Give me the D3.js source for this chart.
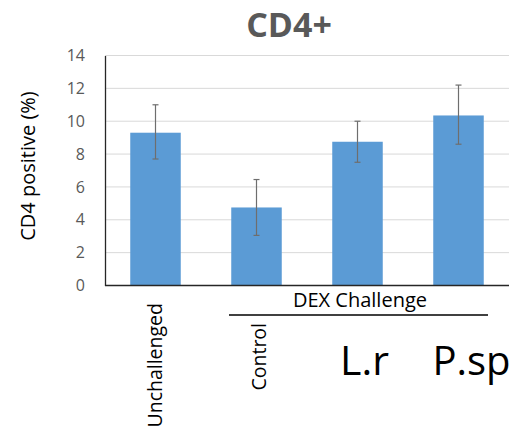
<!DOCTYPE html>
<html>
<head>
<meta charset="utf-8">
<script src="https://cdn.jsdelivr.net/npm/d3@7"></script>
<style>
  body { margin: 0; background: #fff; }
  text { font-family: "Open Sans", "Noto Sans", sans-serif; }
</style>
</head>
<body>
<div id="container"></div>
<script>
// DATA ###############################
const groups = ["Unchallenged", "Control", "L.r", "P.sp"];
const means = [9.3, 4.75, 8.75, 10.35];
const errLow = [7.7, 3.05, 7.5, 8.6];
const errHigh = [11.0, 6.45, 10.0, 12.2];
const yTicks = [0, 2, 4, 6, 8, 10, 12, 14];

// CONSTANTS ###############################
const width = 513,
  height = 432,
  margin = { top: 55.5, left: 105, right: 4, bottom: 146.5 };

const svg = d3.select("#container")
  .append("svg")
  .attr("width", width)
  .attr("height", height);

// SCALES ----------------------------------
const xScale = d3.scaleBand()
  .domain(groups)
  .range([margin.left, width - margin.right])
  .paddingInner(0.5)
  .paddingOuter(0.25);

const yScale = d3.scaleLinear()
  .domain([0, 14])
  .range([height - margin.bottom, margin.top]);

// GRID
svg.append("g")
  .selectAll("line")
  .data(yTicks.filter(d => d > 0))
  .join("line")
  .attr("x1", margin.left)
  .attr("x2", width - margin.right)
  .attr("y1", d => yScale(d))
  .attr("y2", d => yScale(d))
  .attr("stroke", "#d9d9d9")
  .attr("stroke-width", 1);

// Y AXIS
const yAxis = svg.append("g")
  .attr("transform", `translate(${margin.left},0)`)
  .call(d3.axisLeft(yScale).tickValues(yTicks).tickSize(0).tickPadding(20));
yAxis.select(".domain").attr("stroke", "#262626").attr("stroke-width", 1.3);
yAxis.selectAll("text")
  .attr("fill", "#595959")
  .style("font-size", "16px");

// BARS
svg.selectAll("rect.bar")
  .data(groups)
  .join("rect")
  .attr("class", "bar")
  .attr("x", d => xScale(d))
  .attr("width", xScale.bandwidth())
  .attr("y", (d, i) => yScale(means[i]))
  .attr("height", (d, i) => yScale(0) - yScale(means[i]))
  .attr("fill", "#5b9bd5");

// ERROR BARS
const eb = svg.append("g").attr("stroke", "#6e6e6e").attr("stroke-width", 1.2);
groups.forEach((g, i) => {
  const cx = xScale(g) + xScale.bandwidth() / 2;
  eb.append("line")
    .attr("x1", cx).attr("x2", cx)
    .attr("y1", yScale(errHigh[i])).attr("y2", yScale(errLow[i]));
  [errHigh[i], errLow[i]].forEach(v => {
    eb.append("line")
      .attr("x1", cx - 3).attr("x2", cx + 3)
      .attr("y1", yScale(v)).attr("y2", yScale(v));
  });
});

// X AXIS LINE
svg.append("line")
  .attr("x1", margin.left)
  .attr("x2", width - margin.right)
  .attr("y1", yScale(0))
  .attr("y2", yScale(0))
  .attr("stroke", "#262626")
  .attr("stroke-width", 1.3);

// X LABELS
const cx = g => xScale(g) + xScale.bandwidth() / 2;

svg.append("text")
  .attr("transform", `translate(${cx("Unchallenged") + 6},303) rotate(-90)`)
  .attr("text-anchor", "end")
  .style("font-size", "19.5px")
  .attr("fill", "#000")
  .text("Unchallenged");

svg.append("text")
  .attr("transform", `translate(${cx("Control") + 9},323) rotate(-90)`)
  .attr("text-anchor", "end")
  .style("font-size", "19.5px")
  .attr("fill", "#000")
  .text("Control");

svg.append("text")
  .attr("x", cx("L.r") + 7)
  .attr("y", 375)
  .attr("text-anchor", "middle")
  .style("font-size", "41px")
  .attr("fill", "#000")
  .text("L.r");

svg.append("text")
  .attr("x", cx("P.sp") + 13)
  .attr("y", 375)
  .attr("text-anchor", "middle")
  .style("font-size", "40px")
  .attr("fill", "#000")
  .text("P.sp");

// GROUP LABEL
svg.append("text")
  .attr("x", 360)
  .attr("y", 307)
  .attr("text-anchor", "middle")
  .style("font-size", "20px")
  .attr("fill", "#000")
  .text("DEX Challenge");

svg.append("line")
  .attr("x1", 229).attr("x2", 488)
  .attr("y1", 315).attr("y2", 315)
  .attr("stroke", "#000")
  .attr("stroke-width", 1.5);

// Y TITLE
svg.append("text")
  .attr("transform", `translate(35,166) rotate(-90)`)
  .attr("text-anchor", "middle")
  .style("font-size", "20px")
  .attr("fill", "#000")
  .text("CD4 positive (%)");

// TITLE
svg.append("text")
  .attr("x", 289)
  .attr("y", 37)
  .attr("text-anchor", "middle")
  .style("font-size", "34px")
  .style("font-weight", "bold")
  .attr("fill", "#595959")
  .text("CD4+");
</script>
</body>
</html>
